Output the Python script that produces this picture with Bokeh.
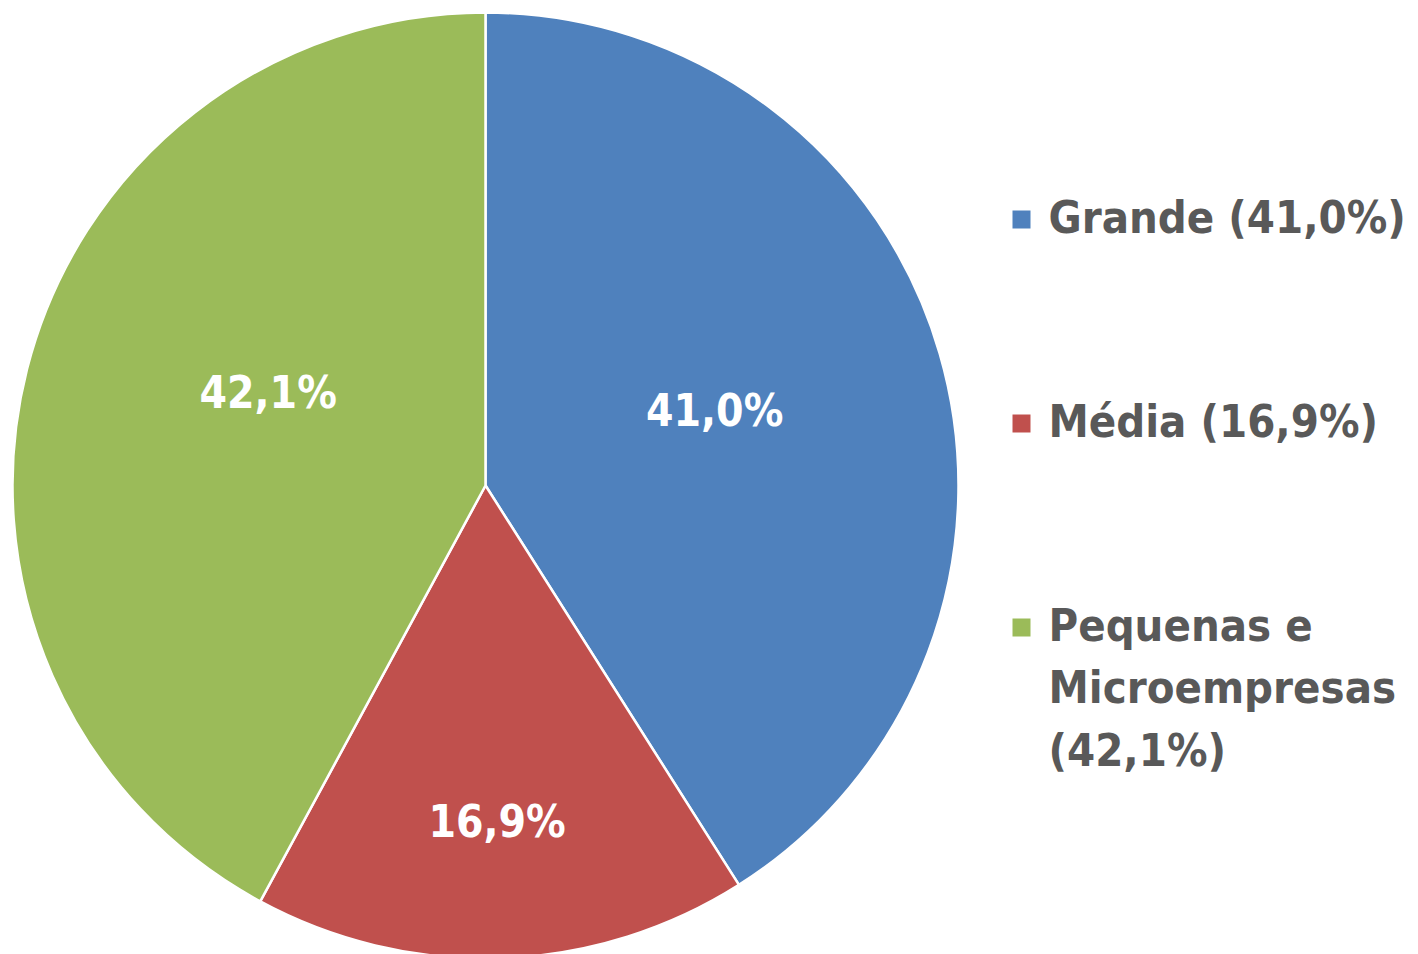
import math
from bokeh.plotting import figure
from bokeh.models import Range1d, ColumnDataSource
from bokeh.core.properties import value
from bokeh.embed import file_html
from bokeh.resources import INLINE

categories = ["Grande", "Média", "Pequenas e Microempresas"]
legend_labels = ["Grande (41,0%)", "Média (16,9%)", "Pequenas e\nMicroempresas\n(42,1%)"]
shares = [41.0, 16.9, 42.1]
data_labels = ["41,0%", "16,9%", "42,1%"]
colors = ["#4F81BD", "#C0504D", "#9BBB59"]
label_radius_frac = [0.51, 0.71, 0.50]
label_angle_shift = [2.0, 0.0, -9.0]  # degrees

W, H = 1418, 954
cx, cy, R = 485, H - 485, 473
FONT = "DejaVu Sans Condensed"

p = figure(width=W, height=H, x_range=Range1d(0, W), y_range=Range1d(0, H),
           output_backend="svg", toolbar_location=None, min_border=0)
p.axis.visible = False
p.grid.visible = False
p.outline_line_color = None
p.background_fill_color = "white"
p.border_fill_color = "white"

total = sum(shares)
starts, ends, lx, ly = [], [], [], []
cum = 0.0
for i, s in enumerate(shares):
    a0 = math.pi / 2 - 2 * math.pi * cum / total
    cum += s
    a1 = math.pi / 2 - 2 * math.pi * cum / total
    starts.append(a0)
    ends.append(a1)
    mid = (a0 + a1) / 2 + math.radians(label_angle_shift[i])
    r = R * label_radius_frac[i]
    lx.append(cx + r * math.cos(mid))
    ly.append(cy + r * math.sin(mid))

src = ColumnDataSource(dict(start=starts, end=ends, color=colors,
                            x=[cx] * 3, y=[cy] * 3, lx=lx, ly=ly, lab=data_labels))
p.wedge(x="x", y="y", radius=R, start_angle="start", end_angle="end",
        direction="clock", fill_color="color", line_color="white", line_width=2.5, source=src)
p.text(x="lx", y="ly", text="lab", source=src, text_color="white",
       text_font=value(FONT), text_font_style="bold", text_font_size="44px",
       text_align="center", text_baseline="middle")

# legend
leg_y = [H - 219, H - 423, H - 627]
leg_src = ColumnDataSource(dict(x=[1021] * 3, y=leg_y, color=colors,
                                tx=[1048] * 3, txt=legend_labels))
p.rect(x="x", y="y", width=18, height=18, fill_color="color", line_color=None, source=leg_src)
p.text(x="tx", y="y", text="txt", source=leg_src, text_color="#595959",
       text_font=value(FONT), text_font_style="bold", text_font_size="45px",
       text_align="left", text_baseline="top", y_offset=-29, text_line_height=1.18)

open("out.html", "w").write(file_html(p, INLINE))
